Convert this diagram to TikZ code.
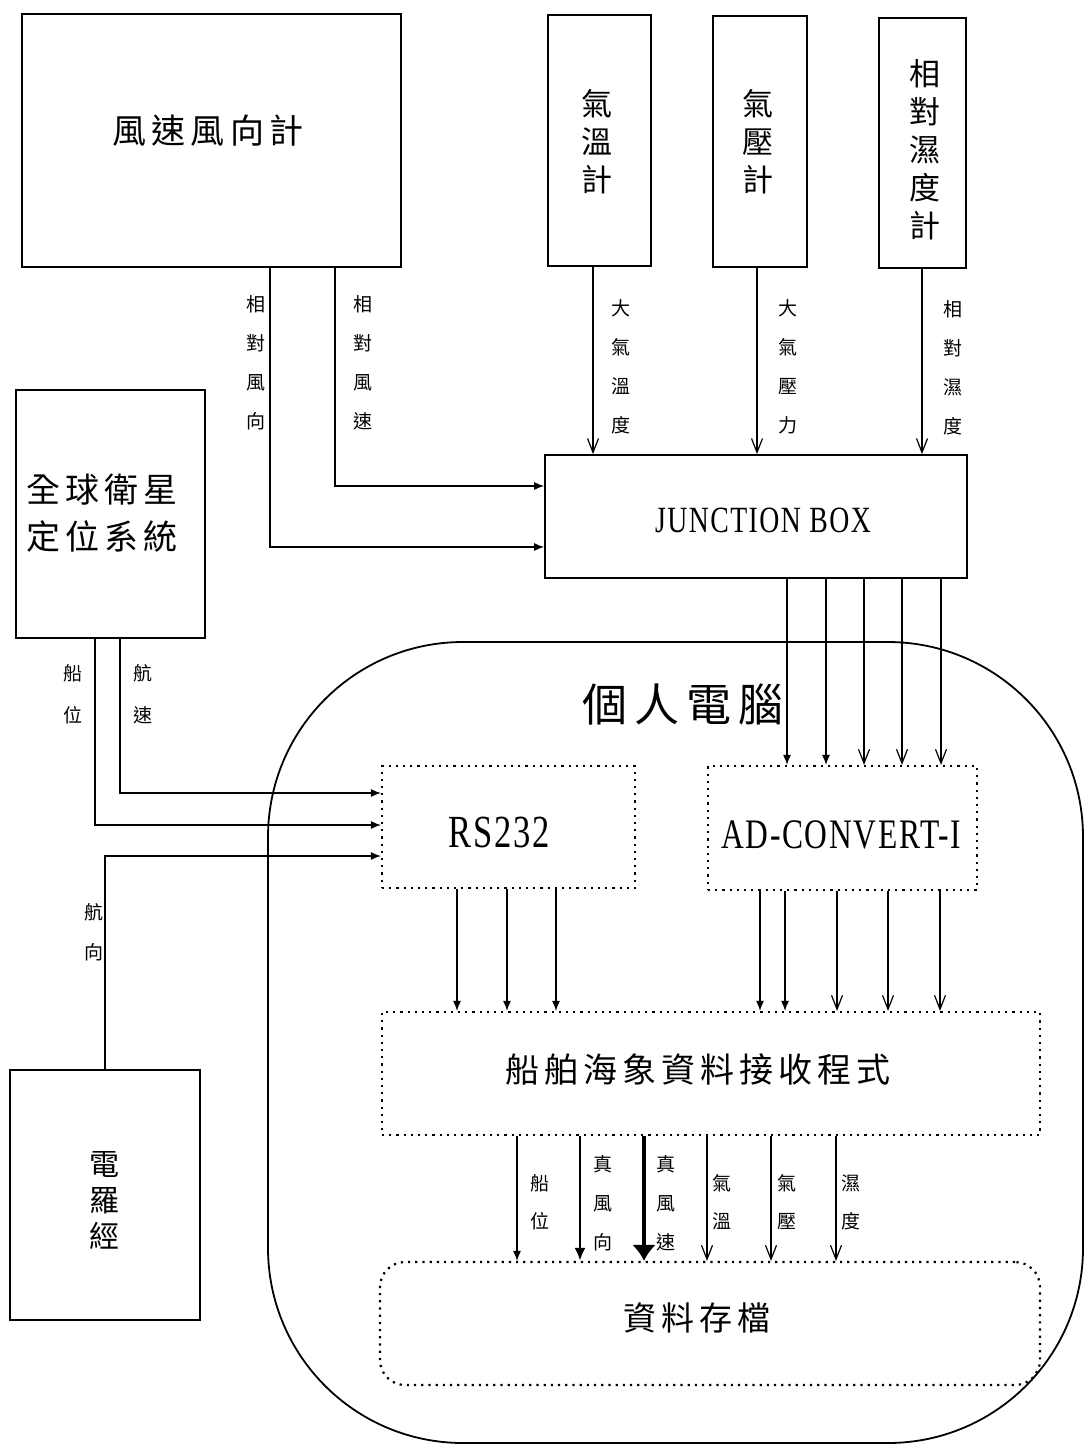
\documentclass[tikz,border=0pt]{standalone}
\usepackage{fontspec}
\setmainfont{Noto Sans CJK TC}
\newfontfamily\cjk{Noto Sans CJK TC}
\newfontfamily\cjksp[LetterSpace=15]{Noto Sans CJK TC}
\newfontfamily\lat[FakeStretch=0.75,LetterSpace=4]{Liberation Serif}
\usetikzlibrary{arrows.meta}
\begin{document}
\begin{tikzpicture}[x=1pt,y=-1pt,
  box/.style={draw, line width=1.8pt, inner sep=0pt, anchor=center},
  dbox/.style={draw, line width=2.2pt, dash pattern=on 2.2pt off 5pt, inner sep=0pt, anchor=center},
  ln/.style={line width=1.2pt},
  fa/.style={ln, -{Latex[length=10pt,width=8pt]}},
  oa/.style={ln, -{Straight Barb[length=14pt,width=11pt]}},
  thk/.style={line width=2.8pt, -{Latex[length=13pt,width=11pt]}},
  big/.style={line width=3.6pt, -{Latex[length=16pt,width=24pt]}},
  lab/.style={font=\cjk\fontsize{19}{39}\selectfont, align=center, inner sep=0pt},
  vtxt/.style={font=\cjk\fontsize{31}{38}\selectfont, align=center, inner sep=0pt},
  txt/.style={inner sep=0pt, align=center}
]
\useasboundingbox (0,0) rectangle (1085,1448);

% personal computer container
\node[draw, line width=1.8pt, rounded corners=195pt, minimum width=815pt, minimum height=801pt, inner sep=0pt] (pc) at (675.5,1042.5) {};
\node[txt, font=\cjksp\fontsize{45}{50}\selectfont] (pclabel) at (683,705) {個人電腦};

% sensor boxes
\node[box, minimum width=379pt, minimum height=253pt] (wind) at (211.5,140.5) {};
\node[txt, font=\cjksp\fontsize{34}{40}\selectfont] (windt) at (208,131) {風速風向計};
\node[box, minimum width=103pt, minimum height=251pt] (temp) at (599.5,140.5) {};
\node[vtxt] (tempt) at (597,142) {氣\\溫\\計};
\node[box, minimum width=94pt, minimum height=251pt] (press) at (760,141.5) {};
\node[vtxt] (presst) at (758,142) {氣\\壓\\計};
\node[box, minimum width=87pt, minimum height=250pt] (hum) at (922.5,143) {};
\node[vtxt] (humt) at (925,150) {相\\對\\濕\\度\\計};
\node[box, minimum width=189pt, minimum height=248pt] (gps) at (110.5,514) {};
\node[txt, font=\cjksp\fontsize{34}{47}\selectfont] (gpst) at (102,513) {全球衛星\\定位系統};
\node[box, minimum width=422pt, minimum height=123pt] (jb) at (756,516.5) {};
\node[txt, font=\lat\fontsize{37}{37}\selectfont] (jbt) at (763,520) {JUNCTION BOX};
\node[box, minimum width=190pt, minimum height=250pt] (gyro) at (105,1195) {};
\node[txt, font=\cjk\fontsize{30}{36}\selectfont] (gyrot) at (104,1200) {電\\羅\\經};

% inner dotted boxes
\node[dbox, minimum width=253pt, minimum height=122pt] (rs) at (508.5,827) {};
\node[txt, font=\lat\fontsize{46}{46}\selectfont] (rst) at (499,832) {RS232};
\node[dbox, minimum width=269pt, minimum height=124pt] (ad) at (842.5,828) {};
\node[txt, font=\lat\fontsize{42}{42}\selectfont] (adt) at (841,835) {AD-CONVERT-I};
\node[dbox, minimum width=658pt, minimum height=123pt] (prog) at (711,1073.5) {};
\node[txt, font=\cjksp\fontsize{34}{40}\selectfont] (progt) at (698,1070) {船舶海象資料接收程式};
\node[dbox, rounded corners=25pt, minimum width=660pt, minimum height=123pt] (store) at (710,1323.5) {};
\node[txt, font=\cjksp\fontsize{33}{40}\selectfont] (storet) at (697,1318) {資料存檔};

% wind meter to junction box
\draw[fa] (wind.south -| 270,0) |- (jb.west |- 0,547);
\draw[fa] (wind.south -| 335,0) |- (jb.west |- 0,486);
\node[lab] (l1) at (256,363) {相\\對\\風\\向};
\node[lab] (l2) at (363,363) {相\\對\\風\\速};

% sensors to junction box
\draw[oa] (temp.south -| 593,0) -- (jb.north -| 593,0);
\draw[oa] (press.south -| 757,0) -- (jb.north -| 757,0);
\draw[oa] (hum.south -| 922,0) -- (jb.north -| 922,0);
\node[lab] (l3) at (621,367) {大\\氣\\溫\\度};
\node[lab] (l4) at (788,367) {大\\氣\\壓\\力};
\node[lab] (l5) at (953,368) {相\\對\\濕\\度};

% junction box to AD converter
\draw[fa] (jb.south -| 787,0) -- (ad.north -| 787,0);
\draw[fa] (jb.south -| 826,0) -- (ad.north -| 826,0);
\draw[oa] (jb.south -| 864,0) -- (ad.north -| 864,0);
\draw[oa] (jb.south -| 902,0) -- (ad.north -| 902,0);
\draw[oa] (jb.south -| 941,0) -- (ad.north -| 941,0);

% GPS and gyro to RS232
\draw[fa] (gps.south -| 120,0) |- (rs.west |- 0,793);
\draw[fa] (gps.south -| 95,0) |- (rs.west |- 0,825);
\draw[fa] (gyro.north -| 105,0) |- (rs.west |- 0,856);
\node[lab, font=\cjk\fontsize{19}{42}\selectfont] (l6) at (73,694) {船\\位};
\node[lab, font=\cjk\fontsize{19}{42}\selectfont] (l7) at (143,694) {航\\速};
\node[lab, font=\cjk\fontsize{19}{40}\selectfont] (l8) at (94,932) {航\\向};

% RS232 and AD to program
\draw[fa] (rs.south -| 457,0) -- (prog.north -| 457,0);
\draw[fa] (rs.south -| 507,0) -- (prog.north -| 507,0);
\draw[fa] (rs.south -| 556,0) -- (prog.north -| 556,0);
\draw[fa] (ad.south -| 760,0) -- (prog.north -| 760,0);
\draw[fa] (ad.south -| 785,0) -- (prog.north -| 785,0);
\draw[oa] (ad.south -| 837,0) -- (prog.north -| 837,0);
\draw[oa] (ad.south -| 888,0) -- (prog.north -| 888,0);
\draw[oa] (ad.south -| 940,0) -- (prog.north -| 940,0);

% program to storage
\draw[fa] (prog.south -| 517,0) -- (store.north -| 517,0);
\draw[thk] (prog.south -| 580,0) -- (store.north -| 580,0);
\draw[big] (prog.south -| 644,0) -- (store.north -| 644,0);
\draw[oa] (prog.south -| 707,0) -- (store.north -| 707,0);
\draw[oa] (prog.south -| 771,0) -- (store.north -| 771,0);
\draw[oa] (prog.south -| 836,0) -- (store.north -| 836,0);
\node[lab, font=\cjk\fontsize{19}{38}\selectfont] (m1) at (540,1202) {船\\位};
\node[lab] (m2) at (603,1203) {真\\風\\向};
\node[lab] (m3) at (666,1203) {真\\風\\速};
\node[lab, font=\cjk\fontsize{19}{38}\selectfont] (m4) at (722,1202) {氣\\溫};
\node[lab, font=\cjk\fontsize{19}{38}\selectfont] (m5) at (787,1202) {氣\\壓};
\node[lab, font=\cjk\fontsize{19}{38}\selectfont] (m6) at (851,1202) {濕\\度};
\end{tikzpicture}
\end{document}
